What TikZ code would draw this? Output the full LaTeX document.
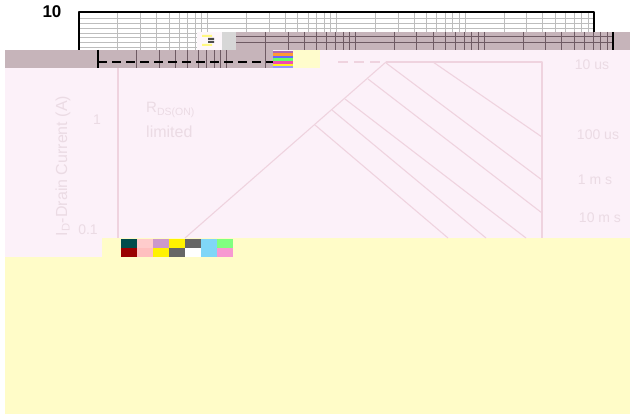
\documentclass[tikz,border=0pt]{standalone}
\usepackage{fontspec}
\setmainfont{Liberation Sans}
\definecolor{pinkbg}{HTML}{FCF1F9}
\definecolor{pinkln}{HTML}{EFD3DF}
\definecolor{pinktx}{HTML}{EBDBE4}
\definecolor{mauve}{HTML}{C6B4BA}
\definecolor{mauveln}{HTML}{6E5A63}
\definecolor{gridgr}{HTML}{BDBDBD}
\definecolor{yel}{HTML}{FFFCC8}
\tikzset{
  faint/.style={pinkln, line width=1.1pt},
  lbl/.style={text=pinktx, inner sep=0pt, font=\fontsize{14}{14}\selectfont},
}
\begin{document}
\begin{tikzpicture}[x=1pt,y=-1pt, line join=round]
\def\dec{128.75} \def\xa{79} \def\xb{98} % decade start of the two grids
\useasboundingbox (0,0) rectangle (630,414);
\fill[white] (0,0) rectangle (630,414);
% upper grid
\foreach \d in {0,...,3}
  \foreach \m in {2,...,9}
    \draw[gridgr, line width=0.8pt] ({\xa+\dec*(\d+log10(\m))},12)--++(0,38);
\foreach \d in {1,...,3}
  \draw[gridgr, line width=0.8pt] ({\xa+\dec*\d},12)--++(0,38);
\foreach \y in {18,23,28,33,37,42,47}
  \draw[gridgr, line width=0.8pt] (\xa,\y)--(594,\y);
\draw[line width=1.6pt] (\xa,50)--(\xa,12)--(594,12)--(594,32);
\node[font=\bfseries\fontsize{17}{17}\selectfont, inner sep=0pt] (ten) at (52,12) {10};
% shifted bands
\fill[mauve] (236,32) rectangle (630,50);
\fill[mauve] (5,50) rectangle (273,68);
\foreach \d in {0,...,3}
  \foreach \m in {1,...,9}{
    \pgfmathsetmacro\xx{\xb+\dec*(\d+log10(\m))}
    \ifdim\xx pt>236pt \draw[mauveln, line width=1pt] (\xx,32)--++(0,18); \fi
    \ifdim\xx pt<273pt \draw[mauveln, line width=1pt] (\xx,50)--++(0,18); \fi
  }
\draw[mauveln, line width=1pt] (236,37)--(613,37) (236,43)--(613,43);
\draw[line width=2pt] (613,32)--(613,50) (\xb,50)--(\xb,68);
\draw[line width=2pt, dash pattern=on 9pt off 5pt] (\xb,62)--(273,62);
% glitches
\fill[pinkbg!60!white] (197,32) rectangle (236,50);
\fill[gridgr!60!white] (222,32) rectangle (236,50);
\fill[yellow!50!white] (202,35) rectangle (212,37) (202,44) rectangle (212,46);
\fill[black!70] (208,38) rectangle (214,40) (208,41) rectangle (214,43);
\fill[pinkbg] (273,50) rectangle (630,68);
\fill[white!80!yellow] (293,50) rectangle (320,68);
\foreach \c [count=\i] in {violet!60,orange!80,blue!60,green!60,magenta!70,yellow!90,blue!40}
  \fill[\c] (273,{48+2.6*\i}) rectangle (293,{50.6+2.6*\i});
% pink area and plot
\fill[pinkbg] (5,68) rectangle (630,257);
\fill[yel] (102,238) rectangle (630,414);
\fill[yel] (5,257) rectangle (630,414);
\draw[faint] (118,68)--(118,238);
\draw[faint] (386,62)--(542,62)--(542,238);
\draw[faint, dash pattern=on 10pt off 6pt] (338,62)--(386,62);
\draw[faint] (185,238)--(386,62);
\draw[faint] (433,62)--(542,137);
\draw[faint] (386,63)--(542,180);
\draw[faint] (368,79)--(542,213);
\draw[faint] (345,99)--(526,238);
\draw[faint] (332,110)--(486,238);
\draw[faint] (315,125)--(448,238);
\node[lbl] (t10us) at (592,65) {10 us};
\node[lbl] (t100us) at (598,135) {100 us};
\node[lbl] (t1ms) at (595,180) {1 m s};
\node[lbl] (t10ms) at (600,218) {10 m s};
\node[lbl] (one) at (97,120) {1};
\node[lbl] (tenth) at (88,230) {0.1};
\node[lbl, anchor=west, font=\fontsize{15}{15}\selectfont] (rds) at (146,110) {R\textsubscript{DS(ON)}};
\node[lbl, anchor=west, font=\fontsize{16}{16}\selectfont] (lim) at (146,132) {limited};
\node[lbl, rotate=90, font=\fontsize{16}{16}\selectfont] (ylab) at (63,166) {I\textsubscript{D}-Drain Current (A)};
% bottom glitch
\foreach \c [count=\i] in {teal!60!black,pink!80,violet!40,yellow,black!60,cyan!50,green!50}
  \fill[\c] ({105+16*\i},239) rectangle ({121+16*\i},248);
\foreach \c [count=\i] in {red!60!black,pink,yellow,black!60,white,cyan!50,magenta!40}
  \fill[\c] ({105+16*\i},248) rectangle ({121+16*\i},257);
\end{tikzpicture}
\end{document}
